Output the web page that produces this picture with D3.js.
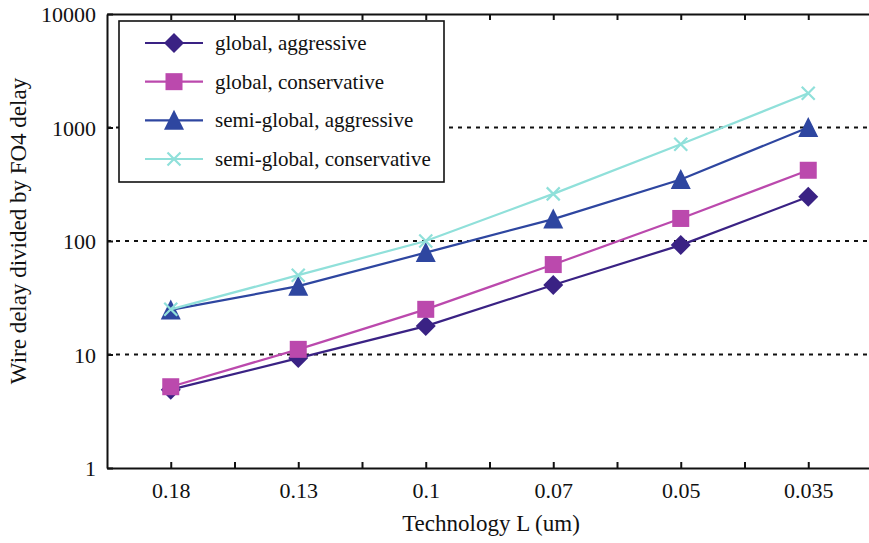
<!DOCTYPE html>
<html><head><meta charset="utf-8">
<script src="https://cdn.jsdelivr.net/npm/d3@7"></script>
<style>body{margin:0;background:#fff}svg{display:block}</style>
</head><body><svg id="c" width="869" height="543"></svg>
<script>
const categories = ["0.18","0.13","0.1","0.07","0.05","0.035"];
const globalAggressive = [4.9, 9.3, 17.8, 41, 92, 245];
const globalConservative = [5.2, 11.1, 25, 62, 158, 420];
const semiAggressive = [24.7, 40, 79, 156, 348, 1000];
const semiConservative = [25, 50, 100, 260, 712, 2000];
const yTicks = [1, 10, 100, 1000, 10000];
const seriesNames = ["global, aggressive","global, conservative","semi-global, aggressive","semi-global, conservative"];

const FONT = "'Liberation Serif'";
const series = [
  {name: seriesNames[0], values: globalAggressive, color: "#3a2284", marker: "diamond"},
  {name: seriesNames[1], values: globalConservative, color: "#bb49ad", marker: "square"},
  {name: seriesNames[2], values: semiAggressive, color: "#2e46a0", marker: "triangle"},
  {name: seriesNames[3], values: semiConservative, color: "#90e0da", marker: "cross"}
];

const L = 107, R = 872, T = 14, B = 468;
const svg = d3.select("#c");
const x = d3.scaleLinear().domain([0.5, categories.length + 0.5]).range([L, R]);
const y = d3.scaleLog().domain([1, 10000]).range([B, T]);
const xPos = i => x(i + 1);

svg.append("g").selectAll("line").data(yTicks.filter(v => v > 1 && v < 10000)).join("line")
  .attr("x1", L).attr("x2", R).attr("y1", d => y(d)).attr("y2", d => y(d))
  .attr("stroke", "#111").attr("stroke-width", 2).attr("stroke-dasharray", "4,5");

const xTickVals = d3.range(1, categories.length + 0.01, 0.5);
const xAxis = d3.axisBottom(x).tickValues(xTickVals).tickSizeInner(-6).tickSizeOuter(0)
  .tickFormat(d => Number.isInteger(d) ? categories[d - 1] : "").tickPadding(14);
const gx = svg.append("g").attr("transform", `translate(0,${B})`).call(xAxis);
const xAxisTop = d3.axisTop(x).tickValues(xTickVals).tickSizeInner(-6).tickSizeOuter(0).tickFormat("");
const gxt = svg.append("g").attr("transform", `translate(0,${T})`).call(xAxisTop);
const yAxis = d3.axisLeft(y).tickValues(yTicks).tickSizeInner(-6).tickSizeOuter(0)
  .tickFormat(d3.format("d")).tickPadding(11);
const gy = svg.append("g").attr("transform", `translate(${L},0)`).call(yAxis);
[gx, gxt, gy].forEach(g => {
  g.attr("font-family", null).attr("font-size", null);
  g.select(".domain").attr("stroke", "#111").attr("stroke-width", 2);
  g.selectAll(".tick line").attr("stroke", "#111").attr("stroke-width", 2);
  g.selectAll(".tick text").attr("font-size", 22).style("font-family", FONT).attr("fill", "#111");
});
gy.selectAll(".tick text").attr("dy", "0.35em");

svg.append("text").attr("x", 491).attr("y", 531).attr("text-anchor", "middle")
  .attr("font-size", 23).style("font-family", FONT).attr("fill", "#111").text("Technology L (um)");
svg.append("text").attr("transform", "translate(26,231) rotate(-90)").attr("text-anchor", "middle")
  .attr("font-size", 23).style("font-family", FONT).attr("fill", "#111").text("Wire delay divided by FO4 delay");

function drawMarker(g, type, color) {
  if (type === "diamond") g.append("path").attr("d", "M0,-10L10,0L0,10L-10,0Z").attr("fill", color);
  else if (type === "square") g.append("rect").attr("x", -8.5).attr("y", -8.5).attr("width", 17).attr("height", 17).attr("fill", color);
  else if (type === "triangle") g.append("path").attr("d", "M0,-10.5L10,9.5L-10,9.5Z").attr("fill", color);
  else g.append("path").attr("d", "M-6.5,-6.5L6.5,6.5M-6.5,6.5L6.5,-6.5").attr("stroke", color).attr("stroke-width", 2.2).attr("fill", "none");
}

const line = d3.line().x((d, i) => xPos(i)).y(d => y(d));
series.forEach(s => {
  svg.append("path").datum(s.values).attr("d", line).attr("fill", "none")
    .attr("stroke", s.color).attr("stroke-width", 2.2);
  s.values.forEach((v, i) => {
    const g = svg.append("g").attr("transform", `translate(${xPos(i)},${y(v)})`);
    drawMarker(g, s.marker, s.color);
  });
});

const lg = svg.append("g");
lg.append("rect").attr("x", 119).attr("y", 21).attr("width", 325).attr("height", 161)
  .attr("fill", "#fff").attr("stroke", "#111").attr("stroke-width", 1.6);
const rowY = d3.scalePoint().domain(seriesNames).range([43, 159]);
series.forEach(s => {
  const yy = rowY(s.name);
  lg.append("line").attr("x1", 145).attr("x2", 203).attr("y1", yy).attr("y2", yy)
    .attr("stroke", s.color).attr("stroke-width", 2.2);
  const g = lg.append("g").attr("transform", `translate(174,${yy})`);
  drawMarker(g, s.marker, s.color);
  lg.append("text").attr("x", 215).attr("y", yy).attr("dy", "0.33em").attr("font-size", 21)
    .style("font-family", FONT).attr("fill", "#111").text(s.name);
});
</script></body></html>
